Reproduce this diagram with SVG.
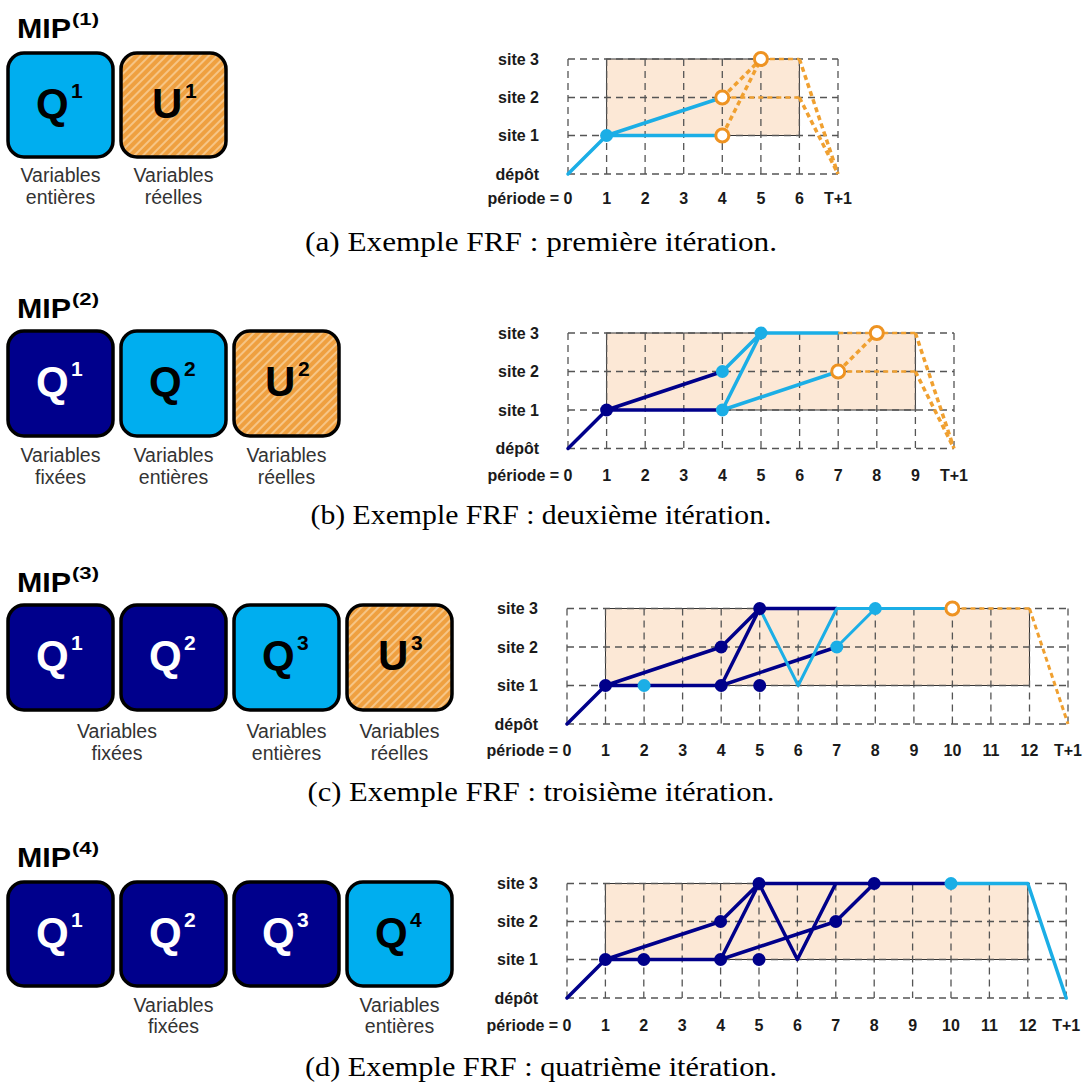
<svg xmlns="http://www.w3.org/2000/svg" width="1084" height="1088" viewBox="0 0 1084 1088">
<defs>
  <pattern id="hatch" patternUnits="userSpaceOnUse" width="6" height="6" patternTransform="rotate(45)">
    <rect width="6" height="6" fill="#EFA040"/>
    <line x1="1" y1="0" x2="1" y2="6" stroke="#F8CF98" stroke-width="1.6"/>
  </pattern>
</defs>
<style>
  .mip{font-family:"Liberation Sans",Arial,sans-serif;font-weight:bold;font-size:28px;fill:#000}
  .sup{font-family:"Liberation Sans",Arial,sans-serif;font-weight:bold;font-size:16px;fill:#000}
  .box{stroke:#000;stroke-width:3.5}
  .fl{fill:#00AEEF}
  .fn{fill:#00008C}
  .fo{fill:url(#hatch)}
  .big{font-family:"Liberation Sans",Arial,sans-serif;font-weight:bold;font-size:42px}
  .bsup{font-family:"Liberation Sans",Arial,sans-serif;font-weight:bold;font-size:21px}
  .w{fill:#fff}
  .k{fill:#000}
  .var{font-family:"Liberation Sans",Arial,sans-serif;font-size:19.5px;fill:#333;text-anchor:middle}
  .lbl{font-family:"Liberation Sans",Arial,sans-serif;font-weight:bold;font-size:16px;fill:#1a1a1a}
  .end{text-anchor:end}
  .mid{text-anchor:middle}
  .shade{fill:#FCE8D6;stroke:#333;stroke-width:1}
  .grid{fill:none;stroke:#555;stroke-width:1.3;stroke-dasharray:7 5}
  .lb{fill:none;stroke:#1BAEE6;stroke-width:3.5;stroke-linecap:round;stroke-linejoin:round}
  .nv{fill:none;stroke:#00008A;stroke-width:3.5;stroke-linecap:round;stroke-linejoin:round}
  .or{fill:none;stroke:#F0A030;stroke-width:3.5;stroke-dasharray:5 3.5}
  .ort{fill:none;stroke:#F0A030;stroke-width:2.5;stroke-dasharray:5 4}
  .nlb{fill:#1BAEE6}
  .nnv{fill:#00008A}
  .nor{fill:#fff;stroke:#EE9322;stroke-width:3}
  .cap{font-family:"Liberation Serif","Times New Roman",serif;font-size:27px;fill:#000;text-anchor:middle}
</style>

<!-- ===================== (a) ===================== -->
<g id="panel-a">
  <text class="mip" x="17" y="38" textLength="54" lengthAdjust="spacingAndGlyphs">MIP</text>
  <text class="sup" x="72" y="25" textLength="27" lengthAdjust="spacingAndGlyphs">(1)</text>
  <g id="a-Q1">
    <rect class="box fl" x="8" y="53" width="105" height="104" rx="16"/>
    <text class="big k" x="36" y="118">Q</text><text class="bsup k" x="71" y="98">1</text>
  </g>
  <g id="a-U1">
    <rect class="box fo" x="121" y="53" width="105" height="104" rx="16"/>
    <text class="big k" x="152" y="118">U</text><text class="bsup k" x="185" y="98">1</text>
  </g>
  <text class="var" x="60.5" y="182">Variables</text>
  <text class="var" x="60.5" y="204">entières</text>
  <text class="var" x="173.5" y="182">Variables</text>
  <text class="var" x="173.5" y="204">réelles</text>
</g>
<g id="chart-a">
  <rect class="shade" x="606.6" y="59" width="192.8" height="76.5"/>
  <path class="grid" d="M568,59H838M568,97.5H838M568,135.5H838M568,174H838M568,59V174M606.6,59V174M645.1,59V174M683.7,59V174M722.3,59V174M760.9,59V174M799.4,59V174M838,59V174"/>
  <text class="lbl end" x="539" y="64.5">site 3</text>
  <text class="lbl end" x="539" y="103">site 2</text>
  <text class="lbl end" x="539" y="141">site 1</text>
  <text class="lbl end" x="539" y="179.5">dépôt</text>
  <text class="lbl end" x="572.5" y="204">période = 0</text>
  <text class="lbl mid" x="606.6" y="204">1</text><text class="lbl mid" x="645.1" y="204">2</text><text class="lbl mid" x="683.7" y="204">3</text><text class="lbl mid" x="722.3" y="204">4</text><text class="lbl mid" x="760.9" y="204">5</text><text class="lbl mid" x="799.4" y="204">6</text><text class="lbl mid" x="838" y="204">T+1</text>
  <g id="a-connectors">
    <path class="lb" d="M568,174L606.6,135.5L722.3,135.5M606.6,135.5L722.3,97.5"/>
    <path class="ort" d="M760.9,59H799.4M722.3,97.5H799.4"/>
    <path class="or" d="M722.3,97.5L760.9,59M722.3,135.5L760.9,59M799.4,59L838,174M799.4,97.5L838,174"/>
  </g>
  <g id="a-nodes">
    <circle class="nlb" cx="606.6" cy="135.5" r="6.5"/>
    <circle class="nor" cx="722.3" cy="97.5" r="6.5"/>
    <circle class="nor" cx="722.3" cy="135.5" r="6.5"/>
    <circle class="nor" cx="760.9" cy="59" r="6.5"/>
  </g>
</g>
<text class="cap" x="541" y="251" textLength="472" lengthAdjust="spacingAndGlyphs">(a) Exemple FRF : première itération.</text>

<!-- ===================== (b) ===================== -->
<g id="panel-b">
  <text class="mip" x="17" y="318" textLength="54" lengthAdjust="spacingAndGlyphs">MIP</text>
  <text class="sup" x="72" y="305" textLength="27" lengthAdjust="spacingAndGlyphs">(2)</text>
  <g id="b-Q1">
    <rect class="box fn" x="8" y="331" width="105" height="105" rx="16"/>
    <text class="big w" x="36" y="396">Q</text><text class="bsup w" x="71" y="376">1</text>
  </g>
  <g id="b-Q2">
    <rect class="box fl" x="121" y="331" width="105" height="105" rx="16"/>
    <text class="big k" x="149" y="396">Q</text><text class="bsup k" x="184" y="376">2</text>
  </g>
  <g id="b-U2">
    <rect class="box fo" x="234" y="331" width="105" height="105" rx="16"/>
    <text class="big k" x="265" y="396">U</text><text class="bsup k" x="298" y="376">2</text>
  </g>
  <text class="var" x="60.5" y="462">Variables</text>
  <text class="var" x="60.5" y="484">fixées</text>
  <text class="var" x="173.5" y="462">Variables</text>
  <text class="var" x="173.5" y="484">entières</text>
  <text class="var" x="286.5" y="462">Variables</text>
  <text class="var" x="286.5" y="484">réelles</text>
</g>
<g id="chart-b">
  <rect class="shade" x="606.6" y="333" width="308.8" height="77"/>
  <path class="grid" d="M568,333H954M568,371.5H954M568,410H954M568,448.5H954M568,333V448.5M606.6,333V448.5M645.2,333V448.5M683.8,333V448.5M722.4,333V448.5M761,333V448.5M799.6,333V448.5M838.2,333V448.5M876.8,333V448.5M915.4,333V448.5M954,333V448.5"/>
  <text class="lbl end" x="539" y="338.5">site 3</text>
  <text class="lbl end" x="539" y="377">site 2</text>
  <text class="lbl end" x="539" y="415.5">site 1</text>
  <text class="lbl end" x="539" y="454">dépôt</text>
  <text class="lbl end" x="572.5" y="481">période = 0</text>
  <text class="lbl mid" x="606.6" y="481">1</text><text class="lbl mid" x="645.2" y="481">2</text><text class="lbl mid" x="683.8" y="481">3</text><text class="lbl mid" x="722.4" y="481">4</text><text class="lbl mid" x="761" y="481">5</text><text class="lbl mid" x="799.6" y="481">6</text><text class="lbl mid" x="838.2" y="481">7</text><text class="lbl mid" x="876.8" y="481">8</text><text class="lbl mid" x="915.4" y="481">9</text><text class="lbl mid" x="954" y="481">T+1</text>
  <g id="b-connectors">
    <path class="nv" d="M568,448.5L606.6,410L722.4,410M606.6,410L722.4,371.5"/>
    <path class="lb" d="M722.4,371.5L761,333M722.4,410L761,333M722.4,410L838.2,371.5M761,333H838.2"/>
    <path class="ort" d="M838.2,333H915.4M838.2,371.5H915.4"/>
    <path class="or" d="M838.2,371.5L876.8,333M915.4,333L954,448.5M915.4,371.5L954,448.5"/>
  </g>
  <g id="b-nodes">
    <circle class="nnv" cx="606.6" cy="410" r="6.5"/>
    <circle class="nlb" cx="722.4" cy="371.5" r="6.5"/>
    <circle class="nlb" cx="722.4" cy="410" r="6.5"/>
    <circle class="nlb" cx="761" cy="333" r="6.5"/>
    <circle class="nor" cx="838.2" cy="371.5" r="6.5"/>
    <circle class="nor" cx="876.8" cy="333" r="6.5"/>
  </g>
</g>
<text class="cap" x="541" y="524" textLength="461" lengthAdjust="spacingAndGlyphs">(b) Exemple FRF : deuxième itération.</text>

<!-- ===================== (c) ===================== -->
<g id="panel-c">
  <text class="mip" x="17" y="592" textLength="54" lengthAdjust="spacingAndGlyphs">MIP</text>
  <text class="sup" x="72" y="579" textLength="27" lengthAdjust="spacingAndGlyphs">(3)</text>
  <g id="c-Q1">
    <rect class="box fn" x="8" y="605" width="105" height="105" rx="16"/>
    <text class="big w" x="36" y="670">Q</text><text class="bsup w" x="71" y="650">1</text>
  </g>
  <g id="c-Q2">
    <rect class="box fn" x="121" y="605" width="105" height="105" rx="16"/>
    <text class="big w" x="149" y="670">Q</text><text class="bsup w" x="184" y="650">2</text>
  </g>
  <g id="c-Q3">
    <rect class="box fl" x="234" y="605" width="105" height="105" rx="16"/>
    <text class="big k" x="262" y="670">Q</text><text class="bsup k" x="297" y="650">3</text>
  </g>
  <g id="c-U3">
    <rect class="box fo" x="347" y="605" width="105" height="105" rx="16"/>
    <text class="big k" x="378" y="670">U</text><text class="bsup k" x="411" y="650">3</text>
  </g>
  <text class="var" x="117" y="738">Variables</text>
  <text class="var" x="117" y="760">fixées</text>
  <text class="var" x="286.5" y="738">Variables</text>
  <text class="var" x="286.5" y="760">entières</text>
  <text class="var" x="399.5" y="738">Variables</text>
  <text class="var" x="399.5" y="760">réelles</text>
</g>
<g id="chart-c">
  <rect class="shade" x="605.5" y="608.5" width="424" height="77"/>
  <path class="grid" d="M567,608.5H1068M567,647H1068M567,685.5H1068M567,724H1068M567,608.5V724M605.5,608.5V724M644.1,608.5V724M682.6,608.5V724M721.2,608.5V724M759.7,608.5V724M798.2,608.5V724M836.8,608.5V724M875.3,608.5V724M913.9,608.5V724M952.4,608.5V724M990.9,608.5V724M1029.5,608.5V724M1068,608.5V724"/>
  <text class="lbl end" x="538" y="614">site 3</text>
  <text class="lbl end" x="538" y="652.5">site 2</text>
  <text class="lbl end" x="538" y="691">site 1</text>
  <text class="lbl end" x="538" y="729.5">dépôt</text>
  <text class="lbl end" x="571.5" y="756">période = 0</text>
  <text class="lbl mid" x="605.5" y="756">1</text><text class="lbl mid" x="644.1" y="756">2</text><text class="lbl mid" x="682.6" y="756">3</text><text class="lbl mid" x="721.2" y="756">4</text><text class="lbl mid" x="759.7" y="756">5</text><text class="lbl mid" x="798.2" y="756">6</text><text class="lbl mid" x="836.8" y="756">7</text><text class="lbl mid" x="875.3" y="756">8</text><text class="lbl mid" x="913.9" y="756">9</text><text class="lbl mid" x="952.4" y="756">10</text><text class="lbl mid" x="990.9" y="756">11</text><text class="lbl mid" x="1029.5" y="756">12</text><text class="lbl mid" x="1068" y="756">T+1</text>
  <g id="c-connectors">
    <path class="nv" d="M567,724L605.5,685.5L721.2,685.5M605.5,685.5L721.2,647L759.7,608.5L836.8,608.5M721.2,685.5L759.7,608.5M721.2,685.5L836.8,647"/>
    <path class="lb" style="stroke-width:3" d="M759.7,608.5L798.2,685.5L836.8,608.5L952.4,608.5M836.8,647L875.3,608.5"/>
    <path class="ort" d="M952.4,608.5H1029.5"/>
    <path class="or" style="stroke-width:3" d="M1029.5,608.5L1068,724"/>
  </g>
  <g id="c-nodes">
    <circle class="nnv" cx="605.5" cy="685.5" r="6.5"/>
    <circle class="nlb" cx="644.1" cy="685.5" r="6.5"/>
    <circle class="nnv" cx="721.2" cy="647" r="6.5"/>
    <circle class="nnv" cx="721.2" cy="685.5" r="6.5"/>
    <circle class="nnv" cx="759.7" cy="608.5" r="6.5"/>
    <circle class="nnv" cx="759.7" cy="685.5" r="6.5"/>
    <circle class="nlb" cx="836.8" cy="647" r="6.5"/>
    <circle class="nlb" cx="875.3" cy="608.5" r="6.5"/>
    <circle class="nor" cx="952.4" cy="608.5" r="6.5"/>
  </g>
</g>
<text class="cap" x="541" y="801" textLength="467" lengthAdjust="spacingAndGlyphs">(c) Exemple FRF : troisième itération.</text>

<!-- ===================== (d) ===================== -->
<g id="panel-d">
  <text class="mip" x="17" y="867" textLength="54" lengthAdjust="spacingAndGlyphs">MIP</text>
  <text class="sup" x="72" y="854" textLength="27" lengthAdjust="spacingAndGlyphs">(4)</text>
  <g id="d-Q1">
    <rect class="box fn" x="8" y="882" width="105" height="104" rx="16"/>
    <text class="big w" x="36" y="947">Q</text><text class="bsup w" x="71" y="927">1</text>
  </g>
  <g id="d-Q2">
    <rect class="box fn" x="121" y="882" width="105" height="104" rx="16"/>
    <text class="big w" x="149" y="947">Q</text><text class="bsup w" x="184" y="927">2</text>
  </g>
  <g id="d-Q3">
    <rect class="box fn" x="234" y="882" width="105" height="104" rx="16"/>
    <text class="big w" x="262" y="947">Q</text><text class="bsup w" x="297" y="927">3</text>
  </g>
  <g id="d-Q4">
    <rect class="box fl" x="347" y="882" width="105" height="104" rx="16"/>
    <text class="big k" x="375" y="947">Q</text><text class="bsup k" x="410" y="927">4</text>
  </g>
  <text class="var" x="173.5" y="1012">Variables</text>
  <text class="var" x="173.5" y="1033">fixées</text>
  <text class="var" x="399.5" y="1012">Variables</text>
  <text class="var" x="399.5" y="1033">entières</text>
</g>
<g id="chart-d">
  <rect class="shade" x="605.4" y="883.5" width="422.4" height="76"/>
  <path class="grid" d="M567,883.5H1066.2M567,921.5H1066.2M567,959.5H1066.2M567,998H1066.2M567,883.5V998M605.4,883.5V998M643.8,883.5V998M682.2,883.5V998M720.6,883.5V998M759,883.5V998M797.4,883.5V998M835.8,883.5V998M874.2,883.5V998M912.6,883.5V998M951,883.5V998M989.4,883.5V998M1027.8,883.5V998M1066.2,883.5V998"/>
  <text class="lbl end" x="538" y="889">site 3</text>
  <text class="lbl end" x="538" y="927">site 2</text>
  <text class="lbl end" x="538" y="965">site 1</text>
  <text class="lbl end" x="538" y="1003.5">dépôt</text>
  <text class="lbl end" x="571.5" y="1031">période = 0</text>
  <text class="lbl mid" x="605.4" y="1031">1</text><text class="lbl mid" x="643.8" y="1031">2</text><text class="lbl mid" x="682.2" y="1031">3</text><text class="lbl mid" x="720.6" y="1031">4</text><text class="lbl mid" x="759" y="1031">5</text><text class="lbl mid" x="797.4" y="1031">6</text><text class="lbl mid" x="835.8" y="1031">7</text><text class="lbl mid" x="874.2" y="1031">8</text><text class="lbl mid" x="912.6" y="1031">9</text><text class="lbl mid" x="951" y="1031">10</text><text class="lbl mid" x="989.4" y="1031">11</text><text class="lbl mid" x="1027.8" y="1031">12</text><text class="lbl mid" x="1066.2" y="1031">T+1</text>
  <g id="d-connectors">
    <path class="nv" d="M567,998L605.4,959.5L720.6,959.5M605.4,959.5L720.6,921.5L759,883.5L951,883.5M720.6,959.5L759,883.5M720.6,959.5L835.8,921.5L874.2,883.5M759,883.5L797.4,959.5L835.8,883.5"/>
    <path class="lb" d="M951,883.5L1027.8,883.5L1066.2,998"/>
  </g>
  <g id="d-nodes">
    <circle class="nnv" cx="605.4" cy="959.5" r="6.5"/>
    <circle class="nnv" cx="643.8" cy="959.5" r="6.5"/>
    <circle class="nnv" cx="720.6" cy="921.5" r="6.5"/>
    <circle class="nnv" cx="720.6" cy="959.5" r="6.5"/>
    <circle class="nnv" cx="759" cy="883.5" r="6.5"/>
    <circle class="nnv" cx="759" cy="959.5" r="6.5"/>
    <circle class="nnv" cx="835.8" cy="921.5" r="6.5"/>
    <circle class="nnv" cx="874.2" cy="883.5" r="6.5"/>
    <circle class="nlb" cx="951" cy="883.5" r="6.5"/>
  </g>
</g>
<text class="cap" x="541" y="1076" textLength="472" lengthAdjust="spacingAndGlyphs">(d) Exemple FRF : quatrième itération.</text>
</svg>
